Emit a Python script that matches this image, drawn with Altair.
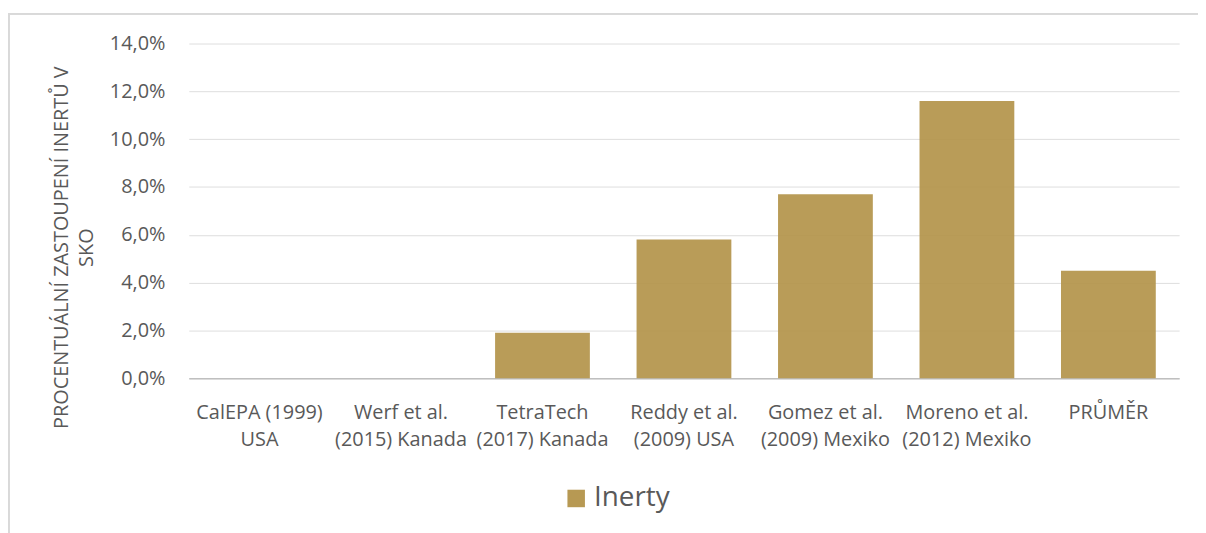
import altair as alt
import pandas as pd

categories = [
    "CalEPA (1999)\nUSA",
    "Werf et al.\n(2015) Kanada",
    "TetraTech\n(2017) Kanada",
    "Reddy et al.\n(2009) USA",
    "Gomez et al.\n(2009) Mexiko",
    "Moreno et al.\n(2012) Mexiko",
    "PRŮMĚR",
]
values = [0.0, 0.0, 0.019, 0.058, 0.077, 0.116, 0.045]
series = ["Inerty"] * len(categories)
y_ticks = [0, 0.02, 0.04, 0.06, 0.08, 0.10, 0.12, 0.14]

df = pd.DataFrame({"kategorie": categories, "hodnota": values, "serie": series})

TXT = "#595959"
FONT = "Open Sans"

bars = alt.Chart(df).mark_bar(opacity=0.92).encode(
    x=alt.X(
        "kategorie:N",
        sort=categories,
        scale=alt.Scale(paddingInner=0.33, paddingOuter=0.165),
        axis=alt.Axis(
            title=None,
            labelAngle=0,
            labelExpr="split(datum.value, '\\n')",
            labelFont=FONT,
            labelFontSize=20,
            labelColor=TXT,
            labelLineHeight=28,
            labelBaseline="top",
            labelPadding=24,
            ticks=False,
            domainColor="#BFBFBF",
            domainWidth=1.5,
            labelLimit=200,
        ),
    ),
    y=alt.Y(
        "hodnota:Q",
        scale=alt.Scale(domain=[0, 0.14], nice=False),
        axis=alt.Axis(
            values=y_ticks,
            title=["PROCENTUÁLNÍ ZASTOUPENÍ INERTŮ V", "SKO"],
            titleFont=FONT,
            titleFontSize=20,
            titleFontWeight="normal",
            titleColor=TXT,
            titleAngle=270,
            titleAlign="center",
            titleBaseline="middle",
            titleLineHeight=25,
            titleX=-128,
            titleY=205,
            labelExpr="replace(format(datum.value, '.1%'), '.', ',')",
            labelFont=FONT,
            labelFontSize=20,
            labelColor=TXT,
            labelPadding=24,
            ticks=False,
            domain=False,
            gridColor="#DEDEDE",
            gridWidth=1,
        ),
    ),
    color=alt.Color(
        "serie:N",
        scale=alt.Scale(range=["#B3944A"]),
        legend=alt.Legend(
            title=None,
            orient="none",
            legendX=376,
            legendY=444,
            symbolType="square",
            symbolSize=310,
            symbolOpacity=0.95,
            symbolStrokeWidth=0,
            labelFont=FONT,
            labelFontSize=28,
            labelColor=TXT,
            labelOffset=4,
        ),
    ),
)

frame = alt.Chart(df).mark_rect(
    fill=None, stroke="#D9D9D9", strokeWidth=1.5, clip=False
).encode(
    x=alt.value(-181),
    x2=alt.value(1040),
    y=alt.value(-30),
    y2=alt.value(520),
)

chart = alt.layer(frame, bars).properties(
    width=997,
    height=337,
    autosize=alt.AutoSizeParams(type="none"),
    padding={"left": 182, "top": 34, "right": 19, "bottom": 154},
    background="white",
).configure_view(stroke=None)

chart.save("out.html", embed_options={"renderer": "svg", "actions": False})
